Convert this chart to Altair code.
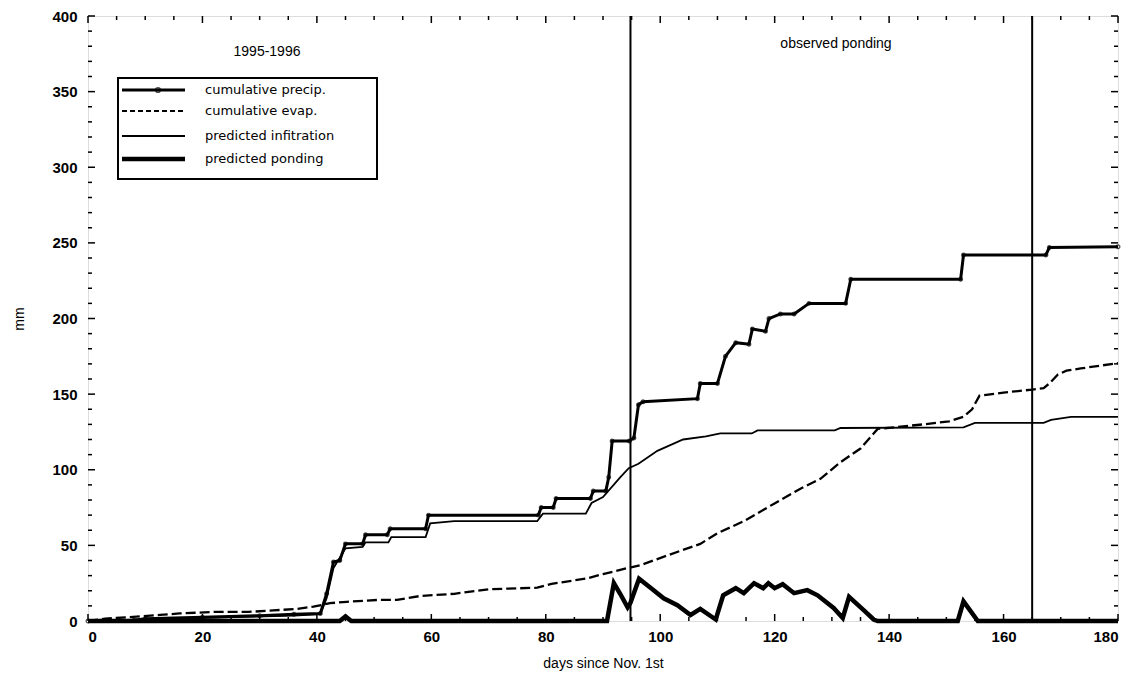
import altair as alt
import pandas as pd

# ---------------- data ----------------
precip_day = [0, 8, 10, 20, 30, 36, 40.6, 41.7, 42.9, 44, 45, 48, 48.5, 52.3, 52.8, 59, 59.5,
              78.7, 79.2, 81.3, 81.8, 87.8, 88.3, 90.5, 91, 91.6, 94.6, 95.4, 96.2, 97, 106.5,
              107, 110, 111.4, 113.2, 115.5, 116.1, 118.4, 119, 121, 123.4, 126, 132.4, 133.3,
              152.5, 153, 167.4, 168, 180]
precip_mm = [0, 0.5, 1.5, 2.5, 3.5, 4.5, 5, 18, 39, 40, 51, 51, 57, 57, 61, 61, 70,
             70, 75, 75, 81, 81, 86, 86, 95, 119, 119, 121, 143, 145, 147,
             157, 157, 175, 184, 183, 193, 191.5, 200, 203, 203, 210, 210, 226,
             226, 242, 242, 247, 247.5]

evap_day = [0, 3, 12.6, 16, 22, 28, 32.4, 36.5, 39.4, 42.3, 45.2, 51, 54, 58, 64, 70, 78.5,
            81, 87, 90, 94.3, 96.6, 101.3, 107, 110, 114.6, 119.9, 124.5, 128, 131.5, 135,
            138, 146, 150.5, 153, 154.5, 155.8, 160, 165, 167, 168, 169.5, 171, 173.5, 180]
evap_mm = [0, 1.5, 4, 5, 6, 6, 7, 8, 9.5, 11.8, 12.7, 14, 14, 16.5, 18, 21, 22,
           24.6, 28, 31, 35, 37, 43.4, 51, 58, 66, 77.6, 87.5, 94, 105, 114,
           127, 130, 132, 135, 140, 149, 151, 153, 154, 157, 163, 165.5, 167, 170.5]

infil_day = [0, 20, 36, 40.6, 41.7, 42.9, 45, 48, 48.5, 52.5, 53, 59, 59.8, 64, 78.5, 79.5,
             87, 88, 90, 93, 94.5, 96.2, 99.5, 104, 108, 110.5, 116, 117, 130.5, 131.5, 153,
             155, 167, 168.3, 171.8, 180]
infil_mm = [0, 2, 3.5, 4.5, 15, 35, 48, 49, 52, 52, 55.5, 55.5, 64.5, 66, 66, 71,
            71, 78, 82, 95, 101, 104, 112.5, 120, 122, 124, 124, 126, 126, 127.6, 128,
            131, 131, 133, 135, 135]

pond_day = [0, 44, 45, 46, 90.7, 91.9, 93, 94.3, 94.8, 96.3, 98.3, 100.6, 103, 105.3, 107,
            109.7, 111, 113.2, 114.6, 116.4, 118, 118.9, 120, 121.4, 123.4, 125.7, 127.5,
            130.3, 131.9, 133, 135.6, 137.3, 138, 152, 153, 155.5, 180]
pond_mm = [0, 0, 3, 0, 0, 25, 18, 9, 12, 28, 22, 15, 10.5, 4, 8,
           1, 17, 21.7, 18.4, 25, 21.7, 25, 21.7, 24.3, 18.4, 20.4, 17,
           8.6, 2, 16, 7, 1, 0, 0, 13, 0, 0]

observed_days = [94.8, 165]

legend_labels = ["cumulative precip.", "cumulative evap.", "predicted infitration", "predicted ponding"]
x_major = list(range(0, 181, 20))
x_minor = [v for v in range(0, 181, 5) if v % 20]
y_major = list(range(0, 401, 50))
y_minor = [v for v in range(0, 401, 10) if v % 50]

# ---------------- chart ----------------
W, H = 1030, 605
FONT = "Liberation Sans"
xs = alt.Scale(domain=[0, 180], nice=False, zero=False)
ys = alt.Scale(domain=[0, 400], nice=False)

x_axis = alt.Axis(values=x_major, ticks=False, domain=False, grid=False,
                  labelFont=FONT, labelFontSize=15, labelFontWeight="bold", labelColor="black",
                  labelPadding=8, title="days since Nov. 1st", titleFont=FONT, titleFontSize=14,
                  titleFontWeight="normal", titleColor="black", titlePadding=12)
y_axis = alt.Axis(values=y_major, ticks=False, domain=False, grid=False,
                  labelFont=FONT, labelFontSize=15, labelFontWeight="bold", labelColor="black",
                  labelPadding=11, title="mm", titleFont=FONT, titleFontSize=14,
                  titleFontWeight="normal", titleColor="black", titlePadding=25)


def series(day, mm):
    return pd.DataFrame({"day": day, "mm": mm})


pond = alt.Chart(series(pond_day, pond_mm)).mark_line(color="black", strokeWidth=4.5).encode(
    x=alt.X("day:Q", scale=xs, axis=x_axis),
    y=alt.Y("mm:Q", scale=ys, axis=y_axis),
)
infil = alt.Chart(series(infil_day, infil_mm)).mark_line(color="black", strokeWidth=1.8).encode(
    x=alt.X("day:Q", scale=xs), y=alt.Y("mm:Q", scale=ys))
evap = alt.Chart(series(evap_day, evap_mm)).mark_line(
    color="black", strokeWidth=2.3, strokeDash=[10, 4]).encode(
    x=alt.X("day:Q", scale=xs), y=alt.Y("mm:Q", scale=ys))
precip = alt.Chart(series(precip_day, precip_mm)).mark_line(color="black", strokeWidth=3).encode(
    x=alt.X("day:Q", scale=xs), y=alt.Y("mm:Q", scale=ys))
precip_pts = alt.Chart(series(precip_day, precip_mm)).mark_point(
    color="black", filled=False, size=14, strokeWidth=1.2).encode(
    x=alt.X("day:Q", scale=xs), y=alt.Y("mm:Q", scale=ys))
vlines = alt.Chart(pd.DataFrame({"day": observed_days})).mark_rule(
    color="black", strokeWidth=2).encode(x=alt.X("day:Q", scale=xs))

# inward tick marks on all four sides, placed through the scales
tick_layers = []
for vals, ln in ((x_major, 7), (x_minor, 4)):
    d = pd.DataFrame({"v": vals})
    tick_layers.append(alt.Chart(d).mark_rule(color="black", strokeWidth=1.5).encode(
        x=alt.X("v:Q", scale=xs), y=alt.value(H), y2=alt.value(H - ln)))
    tick_layers.append(alt.Chart(d).mark_rule(color="black", strokeWidth=1.5).encode(
        x=alt.X("v:Q", scale=xs), y=alt.value(0), y2=alt.value(ln)))
for vals, ln in ((y_major, 7), (y_minor, 4)):
    d = pd.DataFrame({"v": vals})
    tick_layers.append(alt.Chart(d).mark_rule(color="black", strokeWidth=1.5).encode(
        y=alt.Y("v:Q", scale=ys), x=alt.value(0), x2=alt.value(ln)))
    tick_layers.append(alt.Chart(d).mark_rule(color="black", strokeWidth=1.5).encode(
        y=alt.Y("v:Q", scale=ys), x=alt.value(W), x2=alt.value(W - ln)))

one = pd.DataFrame({"k": [0]})
txt = dict(font=FONT, fontSize=14, color="black")
season = alt.Chart(one).mark_text(align="center", baseline="middle", **txt).encode(
    x=alt.value(179), y=alt.value(36), text=alt.value("1995-1996"))
observed = alt.Chart(one).mark_text(align="center", baseline="middle", **txt).encode(
    x=alt.value(748), y=alt.value(28), text=alt.value("observed ponding"))

legend_box = alt.Chart(one).mark_rect(fill="white", stroke="black", strokeWidth=2).encode(
    x=alt.value(30), x2=alt.value(289), y=alt.value(62), y2=alt.value(163))

row_y = [74, 95, 120, 143]
styles = [dict(strokeWidth=3), dict(strokeWidth=2.2, strokeDash=[5, 3]),
          dict(strokeWidth=1.8), dict(strokeWidth=4.5)]
legend_layers = [legend_box]
for lab, yy, st in zip(legend_labels, row_y, styles):
    legend_layers.append(alt.Chart(one).mark_rule(color="black", **st).encode(
        x=alt.value(34), x2=alt.value(97), y=alt.value(yy)))
    legend_layers.append(alt.Chart(one).mark_text(
        align="left", baseline="middle", font="DejaVu Sans", fontSize=13, color="black").encode(
        x=alt.value(117), y=alt.value(yy), text=alt.value(lab)))
legend_layers.append(alt.Chart(one).mark_point(
    color="black", filled=False, size=22, strokeWidth=1.5).encode(
    x=alt.value(70), y=alt.value(row_y[0])))

chart = alt.layer(
    pond, infil, evap, precip, precip_pts, vlines, *tick_layers, season, observed, *legend_layers
).properties(
    width=W, height=H,
    autosize=alt.AutoSizeParams(type="none"),
    padding={"left": 80, "top": 8, "right": 13, "bottom": 54},
).configure_view(stroke="black", strokeWidth=2.5).configure(background="white")

chart.save("out.html", embed_options={"renderer": "svg", "actions": False})
